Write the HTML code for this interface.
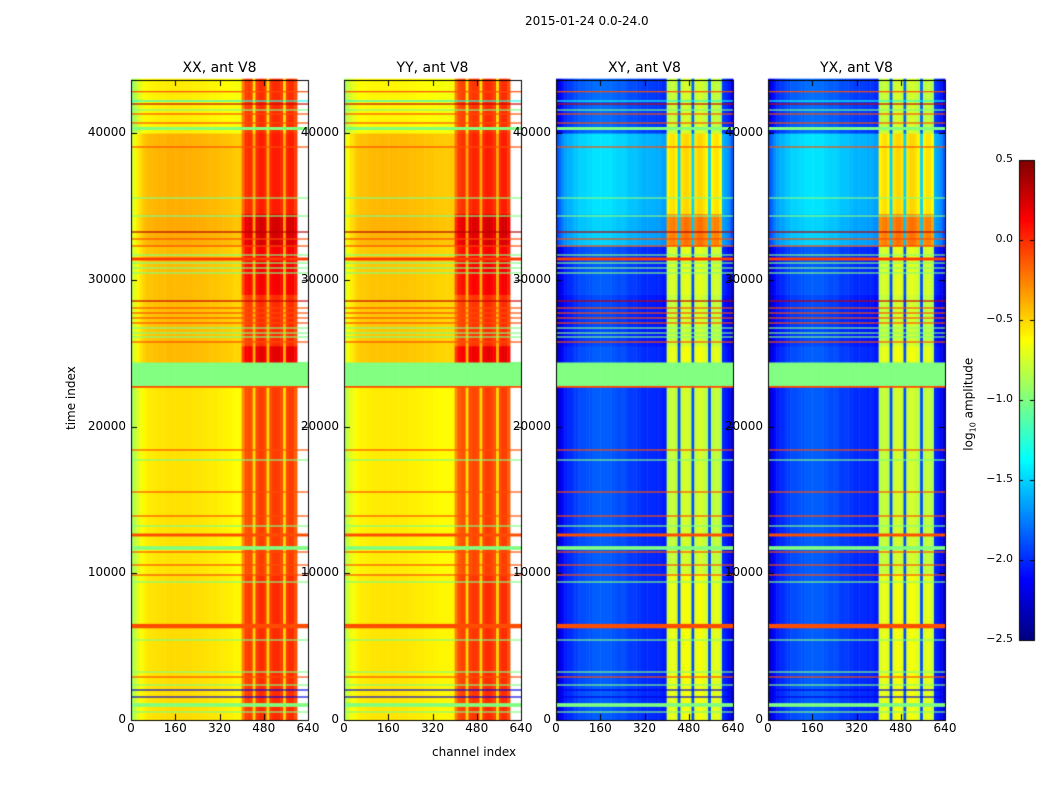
<!DOCTYPE html>
<html><head><meta charset="utf-8">
<style>
body{margin:0;background:#fff;width:1050px;height:800px;overflow:hidden;position:relative;font-family:"DejaVu Sans","Liberation Sans",sans-serif;color:#000}
.t{position:absolute;white-space:nowrap;font-size:12px;line-height:1}
canvas{position:absolute}
</style></head>
<body>
<div class="t" style="left:525px;top:15px;font-size:12px">2015-01-24 0.0-24.0</div>
<div class="t" style="left:432px;top:746px;font-size:12px">channel index</div>
<div class="t" style="left:41px;top:394px;width:60px;transform:rotate(-90deg);font-size:12px">time index</div>
<div class="t" style="left:920px;top:393px;width:100px;transform:rotate(-90deg);font-size:12px">log<sub style="font-size:8px">10</sub> amplitude</div>
<canvas id="cv" width="1050" height="800" style="left:0;top:0"></canvas>
<div id="labels"></div>
<script>
// ---- data ----
const panelTitles = ["XX, ant V8","YY, ant V8","XY, ant V8","YX, ant V8"];
const xTicks = [0,160,320,480,640];
const yTicks = [0,10000,20000,30000,40000];
const cbTicks = [0.5,0.0,-0.5,-1.0,-1.5,-2.0,-2.5];
const cbTickLabels = ["0.5","0.0","\u22120.5","\u22121.0","\u22121.5","\u22122.0","\u22122.5"];
// channel profile in 10-channel bins (null = no data)
const profXX = [-0.8,-0.7,-0.6,-0.55,-0.5,-0.47,-0.45,-0.45,-0.44,-0.44,-0.43,-0.43,-0.43,-0.42,-0.42,-0.42,-0.42,-0.42,-0.42,-0.42,
 -0.42,-0.42,-0.43,-0.43,-0.43,-0.43,-0.44,-0.44,-0.45,-0.45,-0.45,-0.46,-0.46,-0.47,-0.47,-0.48,-0.48,-0.5,-0.5,-0.5,
 -0.3,-0.12,-0.1,-0.12,-0.4,-0.1,-0.05,-0.05,-0.1,-0.4,-0.1,-0.05,-0.05,-0.05,-0.1,-0.4,-0.1,-0.05,-0.05,-0.15,null,null,null,null];
const profYY = [-0.75,-0.65,-0.58,-0.55,-0.5,-0.48,-0.47,-0.47,-0.46,-0.46,-0.45,-0.45,-0.45,-0.45,-0.45,-0.45,-0.45,-0.45,-0.45,-0.45,
 -0.45,-0.45,-0.45,-0.46,-0.46,-0.46,-0.47,-0.47,-0.47,-0.48,-0.48,-0.48,-0.49,-0.49,-0.5,-0.5,-0.5,-0.5,-0.5,-0.5,
 -0.3,-0.15,-0.12,-0.12,-0.4,-0.1,-0.08,-0.08,-0.1,-0.4,-0.1,-0.05,-0.05,-0.08,-0.12,-0.4,-0.1,-0.05,-0.05,-0.15,null,null,null,null];
const profXY = [-2.3,-2.2,-2.1,-2.05,-2.0,-2.0,-1.95,-1.95,-1.9,-1.9,-1.9,-1.88,-1.88,-1.85,-1.85,-1.85,-1.85,-1.85,-1.85,-1.85,
 -1.88,-1.88,-1.9,-1.9,-1.9,-1.92,-1.95,-1.95,-1.95,-1.97,-1.97,-2.0,-2.0,-2.0,-2.0,-2.0,-2.02,-2.02,-2.05,-2.05,
 -0.95,-0.9,-0.88,-0.95,-1.9,-0.9,-0.85,-0.85,-0.9,-1.9,-0.9,-0.85,-0.85,-0.9,-0.95,-1.9,-0.95,-0.9,-0.9,-1.0,-2.0,-2.05,-2.1,-2.25];
const profYX = [-2.3,-2.2,-2.1,-2.05,-2.0,-2.0,-1.95,-1.95,-1.9,-1.9,-1.9,-1.88,-1.88,-1.85,-1.85,-1.85,-1.85,-1.85,-1.85,-1.85,
 -1.88,-1.88,-1.9,-1.9,-1.9,-1.92,-1.95,-1.95,-1.95,-1.97,-1.97,-2.0,-2.0,-2.0,-2.0,-2.0,-2.02,-2.02,-2.05,-2.05,
 -0.95,-0.9,-0.88,-0.95,-1.9,-0.9,-0.85,-0.85,-0.9,-1.9,-0.9,-0.85,-0.85,-0.9,-0.95,-1.9,-0.95,-0.9,-0.9,-1.0,-2.0,-2.05,-2.1,-2.25];
// time segments
const segStart = [0,10000,22800,24400,25500,29000,32300,34500,40000];
const segEnd   = [10000,22800,24400,25500,29000,32300,34500,40000,43700];
const bgParallel   = [-0.1,-0.12,null,0.0,0.0,0.0,0.05,0.03,-0.15];
const bandParallel = [0.05,0.0,null,0.25,0.05,0.2,0.3,0.1,0.05];
const bgCross   = [0.0,0.0,null,0.0,-0.05,0.0,0.35,0.4,0.05];
const bandCross = [0.2,0.1,null,0.2,0.1,0.15,0.65,0.35,0.1];
const flagValue = -1.0;
// flagged rows: time, value, thickness(time units)
const rowTimes  = [42815,42181,41976,41567,41295,40681,40307,39046,35571,34344,33254,32777,32300,31687,31414,31141,30801,30460,28552,28075,27734,27394,27053,26712,26371,26099,25758,22700,18399,17717,15537,13901,13220,12606,11721,11448,10562,9881,9404,6400,5451,3271,2930,2385,2044,1567,1022,545];
const rowValues = [-0.1,-1.3,0.3,-1.0,-0.1,-0.1,-1.0,-0.1,-1.0,-1.0,0.35,-0.1,-0.1,-1.0,-0.05,-1.0,-1.0,-1.0,0.3,-0.1,-0.1,-0.1,-0.1,-1.0,-1.0,-1.0,-0.1,-0.1,-0.1,-1.0,-0.1,-0.1,-1.0,-0.1,-1.0,-0.1,-0.1,-0.1,-1.0,-0.1,-1.0,-1.0,-0.1,-1.0,-2.2,-2.2,-1.0,-1.0];
const rowWidths = [80,80,80,80,80,80,200,80,80,80,80,80,80,80,200,80,80,80,80,80,80,80,80,80,80,80,80,120,80,80,80,80,80,200,250,80,80,80,80,300,80,80,80,80,80,80,250,80];

// ---- layout ----
const panelsX = [131,344,556,768], PW=177, PT=80, PB=720, TMAX=43612, CMAX=640, BIN=10;
const profs=[profXX,profYY,profXY,profYX];
const VMIN=-2.5, VMAX=0.5;
function jet(v){let x=(v-VMIN)/(VMAX-VMIN);x=Math.max(0,Math.min(1,x));
 const f=(a)=>Math.max(0,Math.min(1,1.5-Math.abs(4*x-a)));
 return `rgb(${Math.round(255*f(3))},${Math.round(255*f(2))},${Math.round(255*f(1))})`;}
const ys=t=>PB-(t/TMAX)*(PB-PT);
const xs=(i,c)=>panelsX[i]+c/CMAX*PW;
const cv=document.getElementById('cv'),ctx=cv.getContext('2d');
const lab=document.getElementById('labels');
function txt(s,x,y,name,align,size){const d=document.createElement('div');d.className='t';d.textContent=s;
 
 
 d.style.fontSize=(size||12)+'px';d.style.top=(y-7)+'px';
 if(align==='r'){d.style.right=(1050-x)+'px';}else if(align==='c'){d.style.left=x+'px';d.style.transform='translateX(-50%)';}else d.style.left=x+'px';
 lab.appendChild(d);}
for(let p=0;p<4;p++){
 const prof=profs[p], cross=p>=2, bg=cross?bgCross:bgParallel, band=cross?bandCross:bandParallel;
 for(let s=0;s<segStart.length;s++){
  const y0=ys(segEnd[s]),y1=ys(segStart[s]);
  for(let c=0;c<prof.length;c++){
   const cs=c*BIN,ce=cs+BIN;
   let v;
   if(bg[s]===null){v=flagValue;}
   else if(prof[c]===null){continue;}
   else {const inBand=c>=40&&c<60&&prof[c]>(cross?-1.5:-0.35);v=prof[c]+(inBand?band[s]:bg[s]);}
   ctx.fillStyle=jet(v);
   ctx.fillRect(xs(p,cs),y0,xs(p,ce)-xs(p,cs)+0.5,y1-y0+0.5);
  }
 }
 for(let r=0;r<rowTimes.length;r++){
  const y0=ys(rowTimes[r]+rowWidths[r]/2),y1=ys(rowTimes[r]-rowWidths[r]/2);
  ctx.fillStyle=jet(rowValues[r]);
  ctx.fillRect(panelsX[p],y0,PW,Math.max(1,y1-y0));
 }
 ctx.strokeStyle='#000';ctx.lineWidth=1;
 ctx.strokeRect(panelsX[p]+0.5,PT+0.5,PW,PB-PT);
 ctx.beginPath();
 xTicks.forEach(t=>{const x=Math.round(xs(p,t))+0.5;ctx.moveTo(x,PB);ctx.lineTo(x,PB-6);ctx.moveTo(x,PT);ctx.lineTo(x,PT+6);
  txt(String(t),xs(p,t),PB+9,'x-tick-label','c',12);});
 yTicks.forEach(t=>{const y=Math.round(ys(t))+0.5;ctx.moveTo(panelsX[p],y);ctx.lineTo(panelsX[p]+6,y);ctx.moveTo(panelsX[p]+PW,y);ctx.lineTo(panelsX[p]+PW-6,y);
  txt(String(t),panelsX[p]-5,ys(t),'y-tick-label','r',12);});
 ctx.stroke();
 txt(panelTitles[p],panelsX[p]+PW/2,68,'panel-title','c',14);
}
// colorbar
const CBX=1019,CBW=15,CBT=160,CBB=640;
for(let y=CBT;y<CBB;y++){ctx.fillStyle=jet(VMAX-(y-CBT+0.5)/(CBB-CBT)*(VMAX-VMIN));ctx.fillRect(CBX,y,CBW,1);}
ctx.strokeRect(CBX+0.5,CBT+0.5,CBW,CBB-CBT);
ctx.beginPath();
cbTicks.forEach((t,i)=>{const y=Math.round(CBT+(VMAX-t)/(VMAX-VMIN)*(CBB-CBT))+0.5;ctx.moveTo(CBX,y);ctx.lineTo(CBX+4,y);ctx.moveTo(CBX+CBW,y);ctx.lineTo(CBX+CBW-4,y);
 txt(cbTickLabels[i],1013,y-1,'colorbar-tick-label','r',11);});
ctx.stroke();
</script>
</body></html>
